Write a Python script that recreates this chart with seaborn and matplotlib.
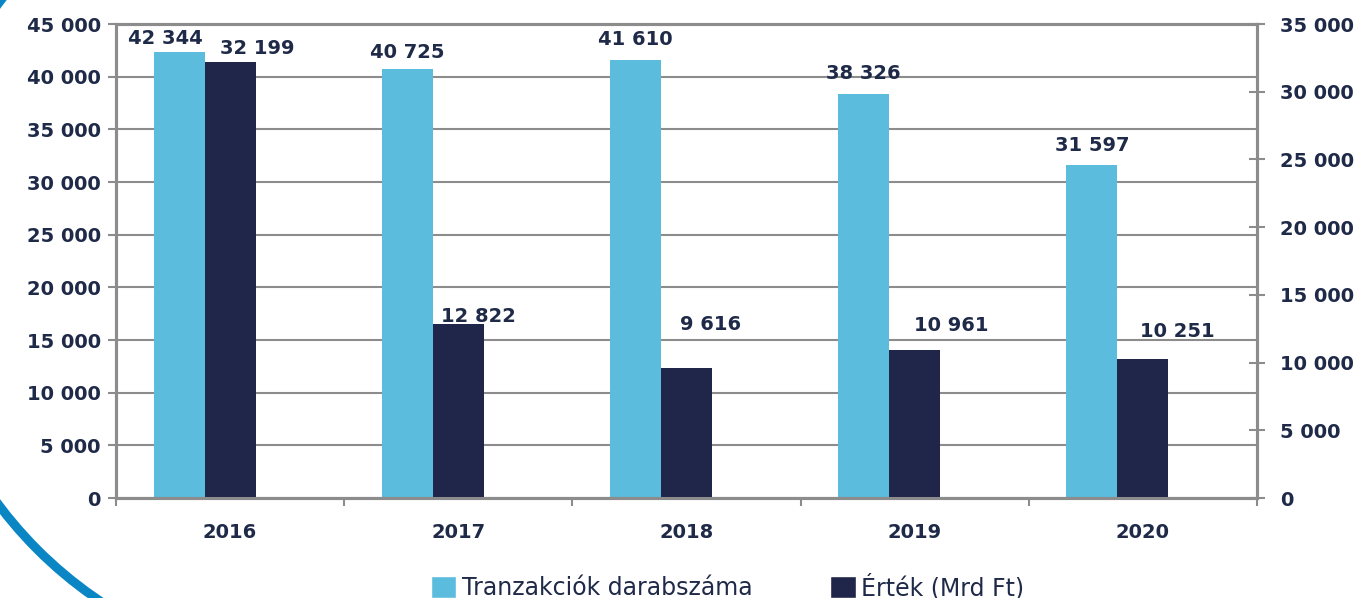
import numpy as np
import pandas as pd
import seaborn as sns
import matplotlib.pyplot as plt
from matplotlib.patches import Patch, Arc
from matplotlib.ticker import FuncFormatter, MultipleLocator, FixedLocator

evek = ['2016', '2017', '2018', '2019', '2020']
tranzakciok = [42344, 40725, 41610, 38326, 31597]
ertek_mrd = [32199, 12822, 9616, 10961, 10251]
sorozat_nevek = ['Tranzakciók darabszáma', 'Érték (Mrd Ft)']

# cimkek eltolasa pixelben (vizszintes, a hasab teteje folott)
cimke_dx_vil = [-14, 0, 0, 0, 0]
cimke_dy_vil = [13, 17, 20, 21, 20]
cimke_dx_sot = [27, 20, 24, 37, 34]
cimke_dy_sot = [13, 8, 43, 24, 28]

VILAGOS = '#5BBCDD'
SOTET = '#1F2649'
SZOVEG = '#1F2A48'
SZURKE = '#8C8C8C'

sns.set_theme(style='white')
plt.rcParams['font.family'] = ['DejaVu Sans']
plt.rcParams['font.weight'] = 'bold'

df = pd.DataFrame({
    'ev': evek * 2,
    'sorozat': [sorozat_nevek[0]] * 5 + [sorozat_nevek[1]] * 5,
    'ertek': tranzakciok + ertek_mrd,
})
hue_order = sorozat_nevek + ['_ures']
paletta = {sorozat_nevek[0]: VILAGOS, sorozat_nevek[1]: SOTET, '_ures': 'white'}

W, H = 1366, 598
fig = plt.figure(figsize=(W / 100, H / 100), dpi=100, facecolor='white')

# dekorativ kek ives vonal a bal sarokban
for t1, t2 in [(205, 245), (135, 150)]:
    fig.add_artist(Arc((3.33, 3.44), 8.36, 8.36, theta1=t1, theta2=t2,
                       transform=fig.dpi_scale_trans, color='#0A86C4', lw=6.5, zorder=0))

ax = fig.add_axes([116 / W, 1 - 498 / H, (1257 - 116) / W, (498 - 24) / H])
ax2 = ax.twinx()

sns.barplot(data=df[df.sorozat == sorozat_nevek[0]], x='ev', y='ertek', hue='sorozat',
            hue_order=hue_order, palette=paletta, width=0.67, saturation=1, dodge=True,
            errorbar=None, legend=False, linewidth=0, ax=ax)
sns.barplot(data=df[df.sorozat == sorozat_nevek[1]], x='ev', y='ertek', hue='sorozat',
            hue_order=hue_order, palette=paletta, width=0.67, saturation=1, dodge=True,
            errorbar=None, legend=False, linewidth=0, ax=ax2)

ax.set_xlim(-0.5, 4.5)
ax.set_ylim(0, 45000)
ax2.set_ylim(0, 35000)
ax.set_xlabel('')
ax.set_ylabel('')
ax2.set_ylabel('')

fmt = FuncFormatter(lambda v, p: f"{int(v):,}".replace(',', ' '))
ax.yaxis.set_major_locator(MultipleLocator(5000))
ax2.yaxis.set_major_locator(MultipleLocator(5000))
ax.yaxis.set_major_formatter(fmt)
ax2.yaxis.set_major_formatter(fmt)

ax.set_axisbelow(True)
ax.yaxis.grid(True, color=SZURKE, lw=1.5)
ax.xaxis.grid(False)
ax2.grid(False)

for a in (ax, ax2):
    for s in a.spines.values():
        s.set_visible(True)
        s.set_color(SZURKE)
        s.set_linewidth(2.2)

ax.tick_params(axis='y', direction='out', length=6, width=1.5, color=SZURKE, pad=5,
               labelsize=14, labelcolor=SZOVEG, left=True)
ax2.tick_params(axis='y', direction='inout', length=11, width=1.5, color=SZURKE, pad=11,
                labelsize=14, labelcolor=SZOVEG, right=True)
ax.tick_params(axis='x', which='major', length=0, pad=18, labelsize=14, labelcolor=SZOVEG)
ax.xaxis.set_minor_locator(FixedLocator(np.arange(-0.5, 5, 1)))
ax.tick_params(axis='x', which='minor', direction='out', length=6, width=1.5,
               color=SZURKE, bottom=True)

# adatcimkek
for a, ertekek, dxs, dys in [(ax, tranzakciok, cimke_dx_vil, cimke_dy_vil),
                              (ax2, ertek_mrd, cimke_dx_sot, cimke_dy_sot)]:
    oszlopok = sorted(a.patches, key=lambda p: p.get_x())
    for p, v, dx, dy in zip(oszlopok, ertekek, dxs, dys):
        a.annotate(f"{v:,}".replace(',', ' '),
                   xy=(p.get_x() + p.get_width() / 2, p.get_height()),
                   xytext=(dx * 0.72, dy * 0.72), textcoords='offset points',
                   ha='center', va='center', fontsize=14, fontweight='bold', color=SZOVEG)

kezelok = [Patch(facecolor=VILAGOS, label=sorozat_nevek[0]),
           Patch(facecolor=SOTET, label=sorozat_nevek[1])]
leg = fig.legend(handles=kezelok, loc='center left', bbox_to_anchor=(431 / W, 1 - 587 / H),
                 ncol=2, frameon=False, prop={'size': 17, 'weight': 'normal'},
                 handlelength=1.06, handleheight=1.06, handletextpad=0.25,
                 columnspacing=3.3, borderaxespad=0, borderpad=0)
for t in leg.get_texts():
    t.set_color(SZOVEG)

fig.savefig('out.png', dpi=100, facecolor='white')
